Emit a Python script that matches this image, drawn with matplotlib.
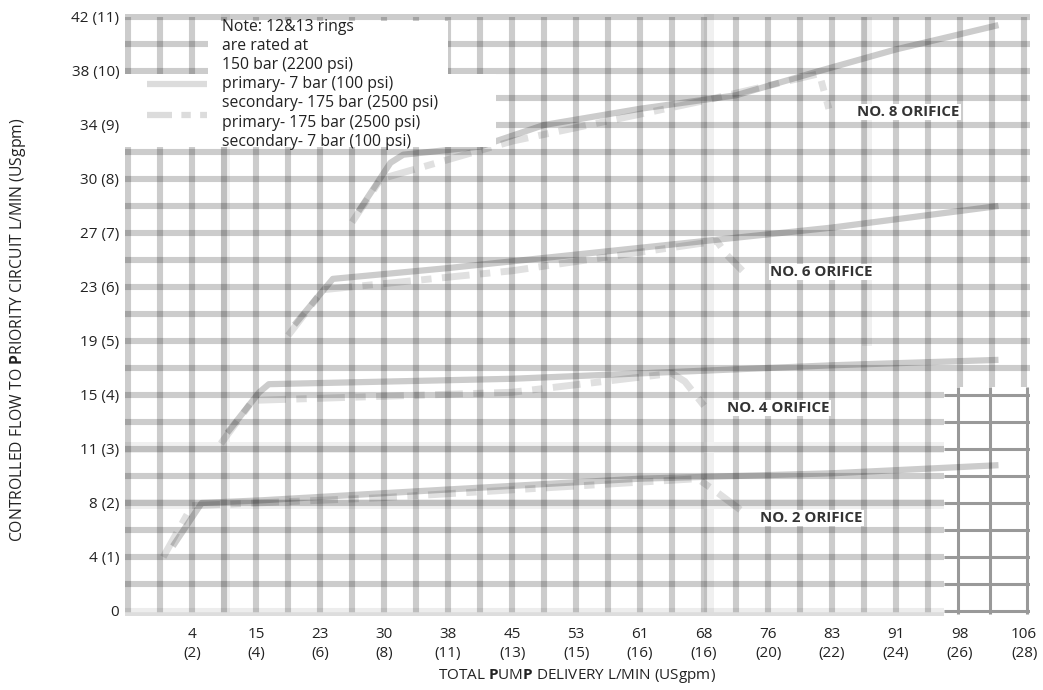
import matplotlib
matplotlib.use("Agg")
import matplotlib.pyplot as plt
import numpy as np

plt.rcParams['font.family'] = ['Open Sans', 'DejaVu Sans']
plt.rcParams['mathtext.fontset'] = 'custom'
plt.rcParams['mathtext.rm'] = 'Open Sans'
plt.rcParams['mathtext.bf'] = 'Open Sans:bold'

# axis labels (positions are in USgpm, labels show L/min and USgpm)
x_lpm = ['4', '15', '23', '30', '38', '45', '53', '61', '68', '76', '83', '91', '98', '106']
x_gpm = ['2', '4', '6', '8', '11', '13', '15', '16', '16', '20', '22', '24', '26', '28']
y_labels = ['0', '4 (1)', '8 (2)', '11 (3)', '15 (4)', '19 (5)', '23 (6)', '27 (7)',
            '30 (8)', '34 (9)', '38 (10)', '42 (11)']

# orifice curves, primary 7 bar / secondary 175 bar (solid)
o2_x = [0.7, 1.15, 2.1, 5.0, 8.0, 11.0, 13.6]
o2_y = [1.2, 2.0, 2.05, 2.25, 2.45, 2.55, 2.7]
o4_x = [1.55, 2.05, 2.2, 6.0, 9.0, 11.0, 13.6]
o4_y = [3.3, 4.05, 4.2, 4.3, 4.45, 4.55, 4.65]
o6_x = [2.6, 3.2, 5.0, 7.0, 9.0, 11.0, 13.6]
o6_y = [5.3, 6.15, 6.35, 6.6, 6.85, 7.1, 7.5]
o8_x = [3.6, 4.1, 4.3, 5.5, 6.5, 8.0, 9.5, 10.8, 12.0, 13.6]
o8_y = [7.4, 8.3, 8.45, 8.6, 9.0, 9.3, 9.55, 10.0, 10.4, 10.85]

# primary 175 bar / secondary 7 bar (dashed), dropping off at high delivery
d2_x = [0.55, 1.0, 4.0, 8.9, 9.2, 9.65]
d2_y = [1.0, 1.95, 2.1, 2.45, 2.2, 1.8]
d4_x = [1.45, 1.95, 6.0, 8.5, 8.7, 9.0]
d4_y = [3.1, 3.9, 4.05, 4.4, 4.25, 3.8]
d6_x = [2.5, 3.05, 6.0, 9.2, 9.35, 9.6]
d6_y = [5.1, 5.95, 6.3, 6.85, 6.6, 6.3]
d8_x = [3.5, 3.95, 6.0, 9.0, 10.8, 10.95]
d8_y = [7.2, 8.0, 8.7, 9.45, 9.95, 9.3]

note_lines = ['Note: 12&13 rings', 'are rated at', '150 bar (2200 psi)',
              'primary- 7 bar (100 psi)', 'secondary- 175 bar (2500 psi)',
              'primary- 175 bar (2500 psi)', 'secondary- 7 bar (100 psi)']

fig = plt.figure(figsize=(10.43, 6.90), dpi=100)
ax = fig.add_axes([0.1197, 0.1067, 0.8683, 0.8726])
ax.set_xlim(-0.05, 14.1)
ax.set_ylim(-0.1, 11.05)

# light background bands
ax.axvspan(1.45, 1.6, color='#f0f0f0', lw=0, zorder=0)
ax.axvspan(9.0, 9.15, color='#f0f0f0', lw=0, zorder=0)
ax.fill_between([11.47, 11.63], 4.9, 11.0, color='#f0f0f0', lw=0, zorder=0)
ax.fill_between([-0.05, 12.75], 2.92, 3.12, color='#f0f0f0', lw=0, zorder=0)
ax.fill_between([-0.05, 12.75], 1.88, 2.08, color='#f0f0f0', lw=0, zorder=0)

# main grid, every half unit
gx = np.arange(0, 14.01, 0.5)
gy = np.arange(0.5, 11.01, 0.5)
lw_grid = 4.4
ax.hlines(gy[gy <= 4], -0.05, 12.75, color='k', alpha=0.2, lw=lw_grid, zorder=1)
ax.hlines(gy[gy > 4], -0.05, 14.1, color='k', alpha=0.2, lw=lw_grid, zorder=1)
ax.hlines(0, -0.05, 12.75, color='k', alpha=0.07, lw=lw_grid, zorder=1)
ax.vlines(gx[gx <= 12.5], -0.05, 11.0, color='k', alpha=0.2, lw=lw_grid, zorder=1)
ax.vlines(gx[gx > 12.5], 4.15, 11.0, color='k', alpha=0.2, lw=lw_grid, zorder=1)
ax.hlines(-0.08, -0.05, 12.75, color='#dddddd', lw=4, zorder=1)

# bottom right inset grid
ax.vlines([12.97, 13.47, 14.05], -0.05, 4.15, color='#999999', lw=2.2, zorder=1)
ax.hlines(np.arange(0, 4.1, 0.5), 12.75, 14.1, color='#999999', lw=2.2, zorder=1)

# curves
for cx, cy in [(o2_x, o2_y), (o4_x, o4_y), (o6_x, o6_y), (o8_x, o8_y)]:
    ax.plot(cx, cy, color='k', alpha=0.2, lw=4.5, solid_capstyle='butt', zorder=2)
for cx, cy in [(d2_x, d2_y), (d4_x, d4_y), (d6_x, d6_y), (d8_x, d8_y)]:
    ax.plot(cx, cy, color='k', alpha=0.12, lw=5, dashes=(4, 1.5, 1.5, 1.5), zorder=2)

# note box
ax.fill_between([1.25, 5.0], 9.95, 10.92, color='white', lw=0, zorder=3)
ax.fill_between([-0.04, 5.75], 8.6, 9.95, color='white', lw=0, zorder=3)
ax.plot([0.3, 1.23], [9.76, 9.76], color='#dcdcdc', lw=4.5, solid_capstyle='butt', zorder=4)
ax.plot([0.3, 1.23], [9.19, 9.19], color='#dcdcdc', lw=4.5, dashes=(4, 1.5, 1.5, 1.5), zorder=4)
for i, line in enumerate(note_lines):
    ax.text(1.47, 10.81 - i * 0.353, line, fontsize=11.3, color='#222222',
            va='center', ha='left', zorder=5)

# orifice labels
for lx, ly, name in [(11.39, 9.24, 'NO. 8'), (10.03, 6.28, 'NO. 6'),
                     (9.36, 3.76, 'NO. 4'), (9.88, 1.72, 'NO. 2')]:
    ax.text(lx, ly, name + ' ORIFICE', fontsize=10.8, fontweight='bold', color='#333333',
            va='center', ha='left', zorder=5,
            bbox=dict(facecolor='white', edgecolor='none', pad=1.0))

ax.set_xticks(np.arange(1, 15))
ax.set_xticklabels([a + '\n(' + b + ')' for a, b in zip(x_lpm, x_gpm)],
                   fontsize=11, color='#222222', linespacing=1.35)
ax.set_yticks(np.arange(0, 12))
ax.set_yticklabels(y_labels, fontsize=11, color='#222222')
ax.tick_params(length=0, pad=8)
ax.tick_params(axis='y', pad=4)
for s in ax.spines.values():
    s.set_visible(False)

fig.text(577 / 1043, 1 - 676 / 690, r'TOTAL $\mathbf{P}$UM$\mathbf{P}$ DELIVERY L/MIN (USgpm)',
         fontsize=11, color='#222222', ha='center', va='center')
fig.text(18 / 1043, 1 - 330 / 690, r'CONTROLLED FLOW TO $\mathbf{P}$RIORITY CIRCUIT L/MIN (USgpm)',
         fontsize=11.3, color='#222222', ha='center', va='center', rotation=90)

fig.savefig('out.png', dpi=100)
